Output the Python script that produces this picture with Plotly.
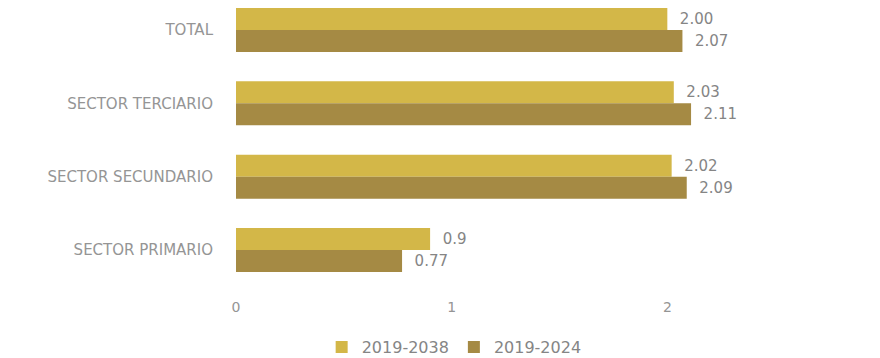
import plotly.graph_objects as go

categories = ["TOTAL", "SECTOR TERCIARIO", "SECTOR SECUNDARIO", "SECTOR PRIMARIO"]
series_names = ["2019-2038", "2019-2024"]
values_2038 = [2.00, 2.03, 2.02, 0.9]
values_2024 = [2.07, 2.11, 2.09, 0.77]
labels_2038 = ["2.00", "2.03", "2.02", "0.9"]
labels_2024 = ["2.07", "2.11", "2.09", "0.77"]
x_ticks = [0, 1, 2, 3]

colors = ["#D3B748", "#A58A44"]
grey = "#858585"
light_grey = "#959595"
font_family = "'DejaVu Sans', sans-serif"

fig = go.Figure()
for name, vals, labs, col in [
    (series_names[0], values_2038, labels_2038, colors[0]),
    (series_names[1], values_2024, labels_2024, colors[1]),
]:
    fig.add_trace(go.Bar(
        y=categories, x=vals, name=name, orientation="h",
        marker=dict(color=col, line=dict(width=0)),
        text=["\u00a0\u00a0" + t for t in labs], textposition="outside",
        textfont=dict(size=15, color=grey, family=font_family),
        cliponaxis=False,
    ))

fig.update_layout(
    width=880, height=358,
    margin=dict(l=228, r=5, t=0, b=69, autoexpand=False),
    paper_bgcolor="white", plot_bgcolor="white",
    barmode="group", bargap=0.4, bargroupgap=0,
    font=dict(family=font_family, color=grey),
    xaxis=dict(range=[0, 3], tickvals=x_ticks, showgrid=False, zeroline=False,
               showline=False, automargin=False,
               tickfont=dict(size=14, color=light_grey)),
    yaxis=dict(range=[3.64, -0.30], showgrid=False, zeroline=False, showline=False,
               ticks="", ticklabelstandoff=22, automargin=False,
               tickfont=dict(size=15, color=light_grey)),
    legend=dict(orientation="h", xref="container", yref="container",
                x=0.507, xanchor="center", y=0.053, yanchor="middle",
                font=dict(size=16, color=grey), itemwidth=30),
    showlegend=True,
)
fig.write_html("out.html")
